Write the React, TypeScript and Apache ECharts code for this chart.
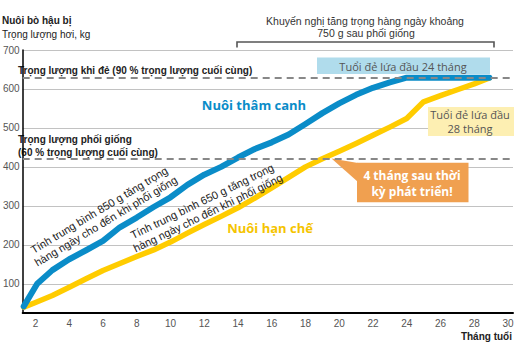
import React, { useEffect, useRef } from "react";
import * as echarts from "echarts";

const xTickLabels = [2, 4, 6, 8, 10, 12, 14, 16, 18, 20, 22, 24, 26, 28, 30];
const yTickLabels = [100, 200, 300, 400, 500, 600, 700];

const intensiveMonths = [1.3, 2.1, 3, 4, 5, 6, 7, 8, 9, 10, 11, 12, 13, 14, 15, 16, 17, 18, 19, 20, 21, 22, 23, 24, 28.9];
const intensiveWeights = [42, 100, 135, 163, 186, 210, 245, 270, 297, 322, 354, 380, 400, 424, 446, 463, 483, 510, 538, 563, 585, 603, 617, 629, 629];

const restrictedMonths = [1.3, 2, 3, 4, 5, 6, 7, 8, 9, 10, 11, 12, 13, 14, 15, 16, 17, 18, 19, 20, 21, 22, 23, 24, 25, 26, 27, 28, 28.9];
const restrictedWeights = [40, 52, 70, 91, 113, 134, 152, 170, 187, 207, 230, 252, 273, 295, 320, 346, 373, 400, 421, 440, 460, 481, 502, 524, 567, 583, 598, 613, 628];

const referenceLevels = [630, 420];

const BLUE = "#0a8cc8";
const YELLOW = "#ffcc00";
const SANS = "Liberation Sans, Arial, sans-serif";
const HUMAN = "Open Sans, Noto Sans, sans-serif";

export default function App() {
  const ref = useRef<HTMLDivElement>(null);
  useEffect(() => {
    if (!ref.current) return;
    const chart = echarts.init(ref.current, null, { renderer: "svg" });
    const zip = (a: number[], b: number[]) => a.map((v, i) => [v, b[i]]);
    chart.setOption({
      animation: false,
      backgroundColor: "#fff",
      grid: { left: 15, right: 7, top: 50, bottom: 47, containLabel: false },
      xAxis: {
        type: "value",
        min: 1.24,
        max: 30.3,
        axisLine: { show: true, onZero: false, lineStyle: { color: "#000", width: 2 } },
        axisTick: { show: false, customValues: xTickLabels },
        axisLabel: { customValues: xTickLabels, color: "#555", fontSize: 10, margin: 5, fontFamily: SANS },
        splitLine: { show: false },
      },
      yAxis: {
        type: "value",
        min: 25,
        max: 700,
        axisLine: { show: true, onZero: false, lineStyle: { color: "#000", width: 1.5 } },
        axisTick: { show: false, customValues: yTickLabels },
        axisLabel: { customValues: yTickLabels, color: "#555", fontSize: 10, margin: 3, fontFamily: SANS },
        splitLine: { show: true, lineStyle: { color: "#c2c2c2", width: 1 } },
      },
      series: [
        {
          type: "line",
          data: [],
          z: 1,
          markLine: {
            silent: true,
            symbol: ["none", "none"],
            label: { show: false },
            lineStyle: { type: [7, 5], color: "#888", width: 2 },
            data: referenceLevels.map((v) => ({ yAxis: v })),
          },
        },
        {
          type: "line",
          data: zip(restrictedMonths, restrictedWeights),
          symbol: "none",
          z: 3,
          lineStyle: { color: YELLOW, width: 5.5, cap: "round", join: "round" },
        },
        {
          type: "line",
          data: zip(intensiveMonths, intensiveWeights),
          symbol: "none",
          z: 4,
          lineStyle: { color: BLUE, width: 6, cap: "round", join: "round" },
        },
      ],
      graphic: [
        { type: "text", x: 2, y: 20.5, style: { text: "Nuôi bò hậu bị", font: `bold 10px ${SANS}`, fill: "#222", verticalAlign: "middle" } },
        { type: "text", x: 2, y: 34, style: { text: "Trọng lượng hơi, kg", font: `10px ${SANS}`, fill: "#222", verticalAlign: "middle" } },
        { type: "text", x: 365, y: 21, style: { text: "Khuyến nghị tăng trọng hàng ngày khoảng", font: `10.5px ${SANS}`, fill: "#333", align: "center", verticalAlign: "middle" } },
        { type: "text", x: 366, y: 33, style: { text: "750 g sau phối giống", font: `10.5px ${SANS}`, fill: "#333", align: "center", verticalAlign: "middle" } },
        { type: "polyline", shape: { points: [[237, 47.5], [237, 42], [494, 42], [494, 47.5]] }, style: { stroke: "#555", lineWidth: 1.6, fill: null } },
        { type: "text", x: 18, y: 70, style: { text: "Trọng lượng khi đẻ (90 % trọng lượng cuối cùng)", font: `bold 10px ${SANS}`, fill: "#222", verticalAlign: "middle" } },
        { type: "text", x: 18, y: 139.5, style: { text: "Trọng lượng phối giống", font: `bold 10px ${SANS}`, fill: "#222", verticalAlign: "middle" } },
        { type: "text", x: 18, y: 152.5, style: { text: "(60 % trọng lượng cuối cùng)", font: `bold 10px ${SANS}`, fill: "#222", verticalAlign: "middle" } },
        { type: "text", x: 254, y: 105, style: { text: "Nuôi thâm canh", font: `bold 13px ${HUMAN}`, fill: BLUE, align: "center", verticalAlign: "middle" } },
        { type: "text", x: 270, y: 228, style: { text: "Nuôi hạn chế", font: `bold 13px ${HUMAN}`, fill: "#f5c400", align: "center", verticalAlign: "middle" } },
        {
          type: "text", x: 102.5, y: 215.5, rotation: (31 * Math.PI) / 180, z: 10,
          style: { text: "Tính trung bình 850 g tăng trọng\nhàng ngày cho đến khi phối giống", font: `11px ${SANS}`, lineHeight: 13, fill: "#222", align: "center", verticalAlign: "middle" },
        },
        {
          type: "text", x: 205, y: 207, rotation: (26 * Math.PI) / 180, z: 10,
          style: { text: "Tính trung bình 650 g tăng trọng\nhàng ngày cho đến khi phối giống", font: `11px ${SANS}`, lineHeight: 13, fill: "#222", align: "center", verticalAlign: "middle" },
        },
        { type: "rect", shape: { x: 317, y: 57.5, width: 173, height: 16.5 }, style: { fill: "#b0dcec" }, z: 5 },
        { type: "text", x: 403, y: 66, z: 6, style: { text: "Tuổi đẻ lứa đầu 24 tháng", font: `11px ${HUMAN}`, fill: "#555", align: "center", verticalAlign: "middle" } },
        { type: "rect", shape: { x: 428, y: 107, width: 86, height: 29 }, style: { fill: "#fdefb2" }, z: 5 },
        { type: "text", x: 470, y: 114.5, z: 6, style: { text: "Tuổi đẻ lứa đầu", font: `11px ${HUMAN}`, fill: "#555", align: "center", verticalAlign: "middle" } },
        { type: "text", x: 470, y: 128.5, z: 6, style: { text: "28 tháng", font: `11px ${HUMAN}`, fill: "#555", align: "center", verticalAlign: "middle" } },
        { type: "polygon", shape: { points: [[331.5, 158.5], [358, 163], [358, 182]] }, style: { fill: "#f0a050" }, z: 5 },
        { type: "rect", shape: { x: 357, y: 162.7, width: 111.5, height: 39.5 }, style: { fill: "#f0a050" }, z: 5 },
        { type: "text", x: 412, y: 175, z: 6, style: { text: "4 tháng sau thời", font: `bold 12px ${HUMAN}`, fill: "#fff", align: "center", verticalAlign: "middle" } },
        { type: "text", x: 412, y: 191, z: 6, style: { text: "kỳ phát triển!", font: `bold 12px ${HUMAN}`, fill: "#fff", align: "center", verticalAlign: "middle" } },
        { type: "text", x: 512, y: 336, style: { text: "Tháng tuổi", font: `bold 10px ${SANS}`, fill: "#222", align: "right", verticalAlign: "middle" } },
      ],
    });
    return () => chart.dispose();
  }, []);
  return <div ref={ref} style={{ width: 520, height: 360, position: "absolute", left: 0, top: 0 }} />;
}
